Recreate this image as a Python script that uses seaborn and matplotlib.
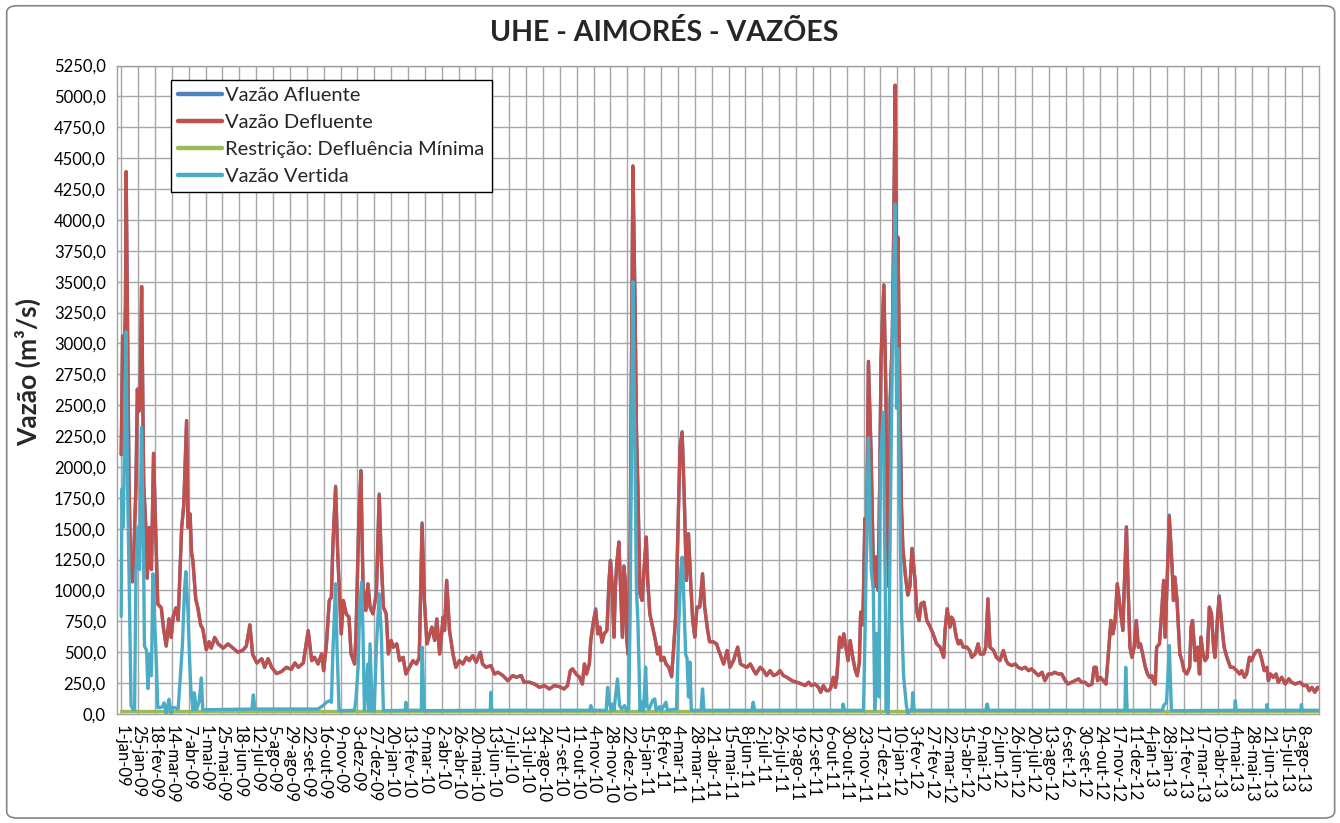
import matplotlib
matplotlib.use("Agg")
import matplotlib.pyplot as plt
from matplotlib.patches import FancyBboxPatch
from matplotlib.lines import Line2D
import seaborn as sns
import pandas as pd
import numpy as np
from datetime import date, timedelta

# ---------------- data (day offsets from 1-jan-2009) ----------------
inicio = date(2009, 1, 1)
meses = ["jan", "fev", "mar", "abr", "mai", "jun", "jul", "ago", "set", "out", "nov", "dez"]

defluente_dias = [
    0, 2, 4, 6, 7, 9, 11, 13, 16, 18,
    21, 23, 25, 27, 29, 32, 35, 37, 40, 43,
    46, 49, 52, 57, 60, 64, 68, 71, 74, 78,
    81, 86, 89, 93, 95, 98, 100, 102, 106, 109,
    113, 116, 121, 125, 128, 133, 138, 145, 152, 159,
    166, 173, 178, 183, 187, 193, 200, 204, 209, 214,
    221, 228, 235, 242, 247, 252, 259, 266, 271, 275,
    280, 285, 288, 292, 296, 299, 301, 305, 308, 313,
    316, 320, 324, 327, 332, 334, 338, 341, 344, 348,
    351, 354, 358, 363, 367, 370, 373, 377, 380, 384,
    387, 392, 396, 401, 405, 410, 415, 420, 424, 428,
    431, 435, 439, 442, 446, 449, 453, 458, 460, 463,
    467, 472, 476, 481, 486, 491, 495, 500, 505, 511,
    514, 519, 526, 531, 536, 543, 550, 557, 562, 569,
    573, 581, 588, 595, 602, 609, 616, 623, 630, 635,
    639, 642, 647, 652, 656, 659, 662, 666, 668, 672,
    675, 678, 681, 684, 687, 691, 694, 696, 698, 701,
    703, 705, 708, 710, 713, 715, 717, 719, 721, 724,
    726, 728, 731, 733, 735, 738, 741, 744, 747, 749,
    752, 756, 760, 763, 766, 768, 772, 775, 779, 783,
    786, 789, 792, 795, 798, 801, 804, 807, 810, 813,
    816, 819, 823, 827, 830, 834, 837, 842, 847, 850,
    852, 857, 862, 866, 871, 877, 881, 885, 890, 895,
    900, 903, 909, 914, 918, 923, 928, 933, 937, 942,
    947, 954, 961, 968, 973, 978, 982, 987, 992, 995,
    999, 1003, 1006, 1009, 1013, 1016, 1018, 1022, 1025, 1028,
    1031, 1034, 1037, 1041, 1044, 1047, 1050, 1052, 1055, 1058,
    1060, 1063, 1067, 1070, 1072, 1074, 1077, 1079, 1081, 1085,
    1088, 1089, 1092, 1094, 1097, 1099, 1101, 1104, 1105, 1107,
    1110, 1112, 1116, 1119, 1122, 1125, 1129, 1132, 1135, 1138,
    1142, 1146, 1151, 1155, 1160, 1165, 1170, 1172, 1175, 1179,
    1181, 1184, 1188, 1191, 1194, 1198, 1203, 1207, 1210, 1215,
    1219, 1222, 1227, 1230, 1233, 1236, 1241, 1245, 1250, 1255,
    1259, 1262, 1267, 1272, 1276, 1281, 1286, 1291, 1295, 1300,
    1305, 1310, 1314, 1319, 1324, 1328, 1333, 1338, 1343, 1347,
    1352, 1357, 1362, 1366, 1371, 1376, 1381, 1384, 1387, 1389,
    1393, 1397, 1401, 1404, 1408, 1411, 1414, 1417, 1421, 1425,
    1427, 1430, 1433, 1435, 1438, 1441, 1444, 1447, 1450, 1453,
    1457, 1460, 1463, 1466, 1469, 1471, 1473, 1477, 1480, 1483,
    1485, 1488, 1491, 1495, 1497, 1499, 1502, 1504, 1506, 1509,
    1512, 1516, 1520, 1522, 1524, 1528, 1531, 1534, 1536, 1539,
    1542, 1545, 1548, 1551, 1554, 1556, 1560, 1562, 1566, 1569,
    1573, 1578, 1582, 1587, 1591, 1594, 1598, 1601, 1605, 1608,
    1612, 1616, 1619, 1623, 1626, 1630, 1632, 1635, 1639, 1643,
    1646, 1651, 1656, 1661, 1665, 1670, 1677, 1682, 1687, 1690,
    1694, 1698, 1702, 1703,
]
defluente_vals = [
    2100, 3060, 2800, 3300, 4390, 3100, 1900, 1300, 1070, 1300,
    1860, 2630, 2450, 2650, 3460, 1860, 1510, 1100, 1510, 1170,
    2110, 1500, 890, 860, 700, 550, 770, 620, 790, 860,
    760, 1510, 1690, 2375, 1510, 1620, 1310, 1240, 930, 860,
    720, 690, 520, 585, 533, 620, 567, 533, 567, 533,
    500, 516, 550, 722, 482, 413, 447, 378, 447, 378,
    327, 344, 378, 361, 413, 378, 413, 675, 432, 459,
    405, 486, 351, 568, 919, 946, 1351, 1832, 1297, 649,
    919, 811, 784, 486, 405, 649, 1568, 1959, 1027, 838,
    1054, 865, 811, 973, 1770, 1243, 865, 811, 486, 595,
    541, 568, 432, 459, 324, 378, 432, 405, 459, 1535,
    946, 568, 649, 703, 595, 770, 486, 784, 676, 1081,
    676, 486, 378, 432, 405, 459, 432, 473, 419, 500,
    405, 378, 392, 324, 338, 311, 270, 311, 297, 311,
    257, 257, 243, 216, 230, 203, 230, 222, 203, 230,
    351, 365, 324, 297, 243, 405, 324, 405, 595, 757,
    838, 649, 703, 581, 649, 676, 1081, 1243, 1081, 622,
    1027, 1216, 1392, 1081, 622, 1189, 1081, 622, 486, 1351,
    2900, 4436, 3300, 2300, 1838, 973, 919, 1189, 1432, 1081,
    811, 703, 595, 486, 541, 432, 459, 405, 378, 311,
    541, 811, 1486, 2162, 2270, 1757, 1081, 1459, 1081, 757,
    622, 865, 865, 1135, 865, 688, 585, 585, 567, 514,
    486, 405, 514, 378, 432, 541, 405, 392, 378, 405,
    351, 324, 378, 351, 311, 351, 311, 324, 351, 311,
    297, 270, 257, 243, 230, 257, 230, 243, 216, 176,
    230, 189, 189, 203, 297, 216, 297, 622, 541, 649,
    541, 432, 595, 450, 360, 310, 413, 825, 722, 1582,
    1238, 2854, 2063, 1169, 1032, 1272, 1000, 1857, 2889, 3473,
    2545, 1650, 1032, 2545, 3060, 3920, 5090, 2889, 3860, 2889,
    1685, 1341, 1100, 963, 1032, 1341, 1100, 825, 757, 894,
    905, 757, 703, 649, 568, 541, 459, 676, 851, 703,
    784, 757, 622, 568, 595, 541, 541, 514, 459, 486,
    568, 486, 486, 541, 932, 541, 514, 459, 432, 514,
    432, 405, 392, 405, 378, 365, 378, 351, 365, 338,
    311, 338, 270, 324, 324, 338, 324, 324, 270, 243,
    257, 270, 284, 257, 257, 230, 243, 378, 378, 270,
    297, 270, 243, 459, 757, 649, 757, 1054, 865, 676,
    1027, 1514, 946, 541, 459, 541, 757, 541, 568, 486,
    378, 324, 297, 311, 257, 243, 541, 568, 811, 1081,
    622, 1081, 1595, 1189, 919, 1108, 919, 703, 486, 432,
    351, 324, 378, 703, 757, 432, 541, 324, 622, 486,
    432, 459, 865, 811, 541, 459, 811, 946, 703, 541,
    459, 378, 378, 351, 324, 351, 297, 324, 459, 432,
    486, 514, 514, 432, 351, 378, 270, 324, 297, 324,
    257, 297, 243, 284, 257, 243, 257, 230, 230, 189,
    216, 176, 216, 203,
]

# Afluente equals Defluente except where it shows above/below it
afluente_dif_dias = [305, 341, 367, 428, 675, 715, 783, 798, 1491, 1562]
afluente_dif_vals = [1845, 1972, 1782, 1548, 852, 1200, 300, 2286, 1610, 958]

vertida_dias = [
    0, 1, 3, 5, 7, 9, 12, 14, 17, 19,
    21, 24, 26, 29, 32, 33, 36, 38, 40, 43,
    45, 47, 50, 52, 55, 59, 61, 64, 66, 68,
    71, 73, 76, 81, 83, 87, 90, 92, 95, 97,
    99, 102, 104, 107, 111, 114, 116, 186, 188, 190,
    280, 287, 292, 297, 299, 301, 305, 307, 310, 332,
    334, 337, 339, 342, 344, 346, 349, 351, 352, 354,
    357, 360, 363, 367, 370, 373, 404, 405, 406, 427,
    428, 431, 525, 526, 527, 667, 668, 670, 690, 692,
    694, 697, 699, 701, 706, 709, 712, 716, 719, 722,
    724, 726, 728, 731, 733, 735, 737, 738, 741, 743,
    746, 748, 751, 756, 759, 761, 766, 768, 775, 777,
    790, 793, 796, 798, 800, 803, 805, 807, 809, 811,
    825, 827, 829, 897, 899, 901, 1026, 1027, 1029, 1056,
    1058, 1061, 1063, 1067, 1070, 1072, 1075, 1078, 1080, 1084,
    1087, 1088, 1091, 1093, 1096, 1098, 1101, 1103, 1105, 1107,
    1110, 1113, 1117, 1119, 1122, 1125, 1126, 1128, 1230, 1232,
    1234, 1428, 1429, 1431, 1481, 1483, 1487, 1489, 1491, 1494,
    1584, 1585, 1586, 1629, 1630, 1631, 1678, 1679, 1680, 1703,
]
vertida_vals = [
    791, 1822, 1513, 2400, 3095, 1857, 825, 69, 34, 34,
    1169, 1513, 1169, 2321, 1169, 550, 516, 206, 481, 310,
    1135, 825, 413, 52, 52, 60, 90, 0, 60, 120,
    0, 50, 52, 40, 206, 550, 1000, 1152, 825, 481,
    206, 34, 172, 34, 103, 292, 34, 40, 155, 40,
    40, 68, 95, 108, 95, 486, 1054, 541, 27, 30,
    122, 378, 811, 1068, 649, 27, 270, 405, 27, 568,
    27, 27, 541, 973, 649, 27, 30, 95, 30, 30,
    541, 27, 30, 176, 30, 30, 68, 30, 30, 216,
    108, 27, 81, 30, 284, 68, 40, 68, 27, 40,
    811, 2300, 3500, 2000, 1000, 757, 300, 27, 100, 27,
    380, 60, 40, 110, 122, 30, 60, 30, 95, 30,
    40, 700, 1150, 1270, 1000, 480, 450, 138, 420, 30,
    30, 203, 30, 30, 95, 30, 30, 81, 30, 30,
    600, 1622, 2235, 1169, 1000, 34, 653, 138, 2030, 2442,
    1000, 34, 0, 1000, 2476, 3232, 4127, 2476, 2957, 1857,
    825, 310, 69, 0, 30, 30, 172, 30, 30, 81,
    30, 30, 378, 30, 30, 68, 95, 300, 554, 27,
    30, 108, 30, 30, 76, 30, 30, 76, 30, 30,
]

restricao_dias = [0, 1703]
restricao_vals = [25, 25]

series_nomes = ["Vazão Afluente", "Vazão Defluente",
                "Restrição: Defluência Mínima", "Vazão Vertida"]
series_cores = ["#4F81BD", "#C0504D", "#9BBB59", "#4BACC6"]

tick_dias = list(range(0, 1681, 24))

# ---------------- build table ----------------
aflu_map = dict(zip(afluente_dif_dias, afluente_dif_vals))
afluente_vals = [aflu_map.get(d, v) for d, v in zip(defluente_dias, defluente_vals)]

frames = []
for nome, dias, vals in [
    (series_nomes[0], defluente_dias, afluente_vals),
    (series_nomes[1], defluente_dias, defluente_vals),
    (series_nomes[2], restricao_dias, restricao_vals),
    (series_nomes[3], vertida_dias, vertida_vals),
]:
    frames.append(pd.DataFrame({"dia": dias, "vazao": vals, "serie": nome}))
df = pd.concat(frames, ignore_index=True)

# ---------------- style ----------------
sns.set_style("white")
plt.rcParams["font.family"] = ["Lato", "DejaVu Sans"]

fig = plt.figure(figsize=(13.4, 8.23), dpi=100)
ax = fig.add_axes([117 / 1340, 1 - 714 / 823, (1319 - 117) / 1340, (714 - 65.5) / 823])

for nome, cor in zip(series_nomes, series_cores):
    sns.lineplot(data=df[df["serie"] == nome], x="dia", y="vazao", color=cor,
                 estimator=None, sort=False, lw=2.4, ax=ax,
                 solid_joinstyle="round", solid_capstyle="round")

ax.set_xlim(-6, 1704)
ax.set_ylim(0, 5250)

# ticks
ax.set_yticks(np.arange(0, 5251, 250))
ax.set_yticklabels([f"{v:.1f}".replace(".", ",") for v in np.arange(0, 5251, 250)])
ax.set_xticks(tick_dias)
labels = []
for d in tick_dias:
    dt = inicio + timedelta(days=d)
    labels.append(f"{dt.day}-{meses[dt.month - 1]}-{dt.year % 100:02d}")
ax.set_xticklabels(labels, rotation=-90)

ax.tick_params(axis="both", direction="out", length=5, width=1, color="#a0a0a0",
               labelsize=12, pad=3, labelcolor="black")
ax.grid(True, color="#a6a6a6", lw=1.0)
ax.set_axisbelow(True)
for s in ax.spines.values():
    s.set_color("#a0a0a0")
    s.set_linewidth(1.0)
ax.set_xlabel("")
ax.set_ylabel("")

# legend
handles = [Line2D([0], [0], color=c, lw=3.2) for c in series_cores]
leg = ax.legend(handles, series_nomes, loc="upper left", bbox_to_anchor=(0.045, 0.978),
                borderaxespad=0, frameon=True, fancybox=False, edgecolor="black",
                fontsize=14.5, handlelength=2.2, handletextpad=0.15, labelspacing=0.5,
                borderpad=0.35, framealpha=1)
leg.get_frame().set_linewidth(1.0)

# titles
fig.text(0.496, 0.961, "UHE - AIMORÉS - VAZÕES", ha="center", va="center",
         fontsize=20.5, fontweight="bold")
fig.text(0.021, 0.548, "Vazão (m³/s)", ha="center", va="center", rotation=90,
         fontsize=19, fontweight="bold")

# outer border
border = FancyBboxPatch((0.005, 0.006), 0.991, 0.987, boxstyle="round,pad=0,rounding_size=0.008",
                        transform=fig.transFigure, ec="#868686", fc="none", lw=1.2)
fig.patches.append(border)

fig.savefig("out.png", dpi=100, facecolor="white")
